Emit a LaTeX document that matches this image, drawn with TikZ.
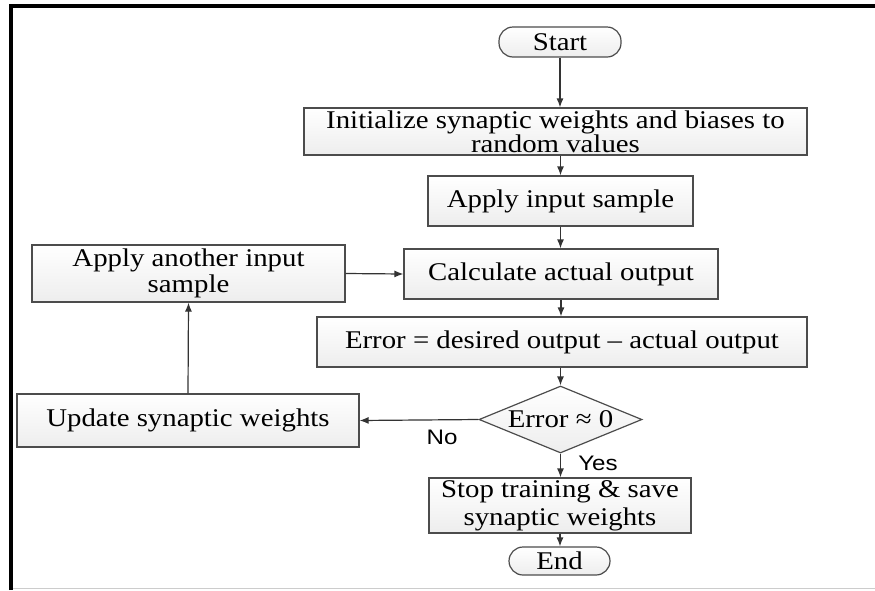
\documentclass[tikz,border=0pt]{standalone}
\usepackage{fontspec}
\setmainfont{Liberation Serif}[FakeStretch=1.13]
\newfontfamily\yesnofont{Liberation Sans}[FakeStretch=1.15]
\usetikzlibrary{shapes.geometric,arrows.meta}
\newcommand{\boxline}{black!70}
\newcommand{\boxsize}{\fontsize{25.5}{23}\selectfont}

\begin{document}
\begin{tikzpicture}[x=1pt,y=-1pt,
  every node/.style={font=\boxsize},
  stepbox/.style={draw=\boxline,line width=1.2pt,top color=white,bottom color=gray!14,inner sep=0pt,align=center},
  termbox/.style={stepbox,rounded corners=14pt},
  flow/.style={draw=black!80,line width=1.2pt,-{Latex[length=9pt,width=7pt]}},
  yesno/.style={font=\yesnofont\fontsize{21}{22}\selectfont}]
\useasboundingbox (0,0) rectangle (875,590);
% frame
\draw[line width=3.5pt] (11,590) -- (11,6) -- (875,6);
\draw[gray!40,line width=1pt] (13,588) -- (875,588);
% right column
\node[termbox,minimum width=122,minimum height=30] (start) at (560,42) {Start};
\node[stepbox,minimum width=503,minimum height=47] (init) at (555.5,131.5) {Initialize synaptic weights and biases to\\random values};
\node[stepbox,minimum width=265,minimum height=50] (apply) at (560.5,201) {Apply input sample};
\node[stepbox,minimum width=314,minimum height=50] (calc) at (561,274) {Calculate actual output};
\node[stepbox,minimum width=490,minimum height=50] (err) at (562,342) {Error = desired output -- actual output};
\node[diamond,draw=\boxline,line width=1.2pt,top color=white,bottom color=gray!14,inner sep=0pt,minimum width=163,minimum height=67] (dec) at (560.5,419.5) {\makebox[0pt]{Error ≈ 0}};
\node[stepbox,minimum width=262,minimum height=55] (stop) at (560,505.5) {Stop training \& save\\[4pt]synaptic weights};
\node[termbox,minimum width=101,minimum height=28] (end) at (559.5,561) {End};
% left column
\node[stepbox,minimum width=313,minimum height=57] (another) at (188.5,273.5) {Apply another input\\[2pt]sample};
\node[stepbox,minimum width=342,minimum height=53] (update) at (188,420.5) {Update synaptic weights};
% connectors
\draw[flow] (start.south) -- (start.south |- init.north);
\draw[flow] (apply.north |- init.south) -- (apply.north);
\draw[flow] (apply.south) -- (apply.south |- calc.north);
\draw[flow] (calc.south) -- (calc.south |- err.north);
\draw[flow] (dec.north |- err.south) -- (dec.north);
\draw[flow] (dec.south) -- (dec.south |- stop.north);
\draw[flow] (stop.south) -- (stop.south |- end.north);
\draw[flow] (dec.west) -- (update.east);
\draw[flow] (update.north) -- (another.south);
\draw[flow] (another.east) -- (calc.west);
% labels
\node[yesno] (no) at (442,437) {No};
\node[yesno] (yes) at (598,463) {Yes};
\end{tikzpicture}
\end{document}
